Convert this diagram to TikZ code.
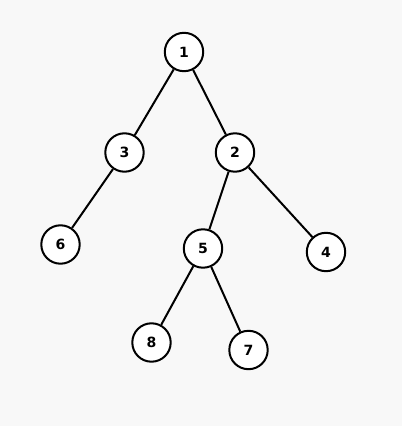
\documentclass[tikz,border=0pt]{standalone}
\usepackage{fontspec}
\newfontfamily\treefont{DejaVu Sans}
\usepackage{tikz}
\definecolor{paper}{RGB}{248,248,248}

\begin{document}
\begin{tikzpicture}[
  x=0.25mm, y=-0.25mm,
  vert/.style={circle, draw=black, fill=white, line width=0.5mm,
    minimum size=9.6mm, inner sep=0pt, font=\treefont\bfseries\normalsize},
  edge/.style={line width=0.5mm}
]
  % canvas: 402 x 426 px
  \fill[paper] (0,0) rectangle (402,426);
  \useasboundingbox (0,0) rectangle (402,426);
  % vertices
  \node[vert] (n1) at (184,52) {1};
  \node[vert] (n3) at (124.5,152.5) {3};
  \node[vert] (n2) at (235,152.5) {2};
  \node[vert] (n6) at (60.5,244.5) {6};
  \node[vert] (n5) at (203,248.5) {5};
  \node[vert] (n4) at (326,252) {4};
  \node[vert] (n8) at (151.5,342.5) {8};
  \node[vert] (n7) at (248.5,350) {7};
  % edges
  \draw[edge] (n1) -- (n3);
  \draw[edge] (n1) -- (n2);
  \draw[edge] (n3) -- (n6);
  \draw[edge] (n2) -- (n5);
  \draw[edge] (n2) -- (n4);
  \draw[edge] (n5) -- (n8);
  \draw[edge] (n5) -- (n7);
\end{tikzpicture}
\end{document}
